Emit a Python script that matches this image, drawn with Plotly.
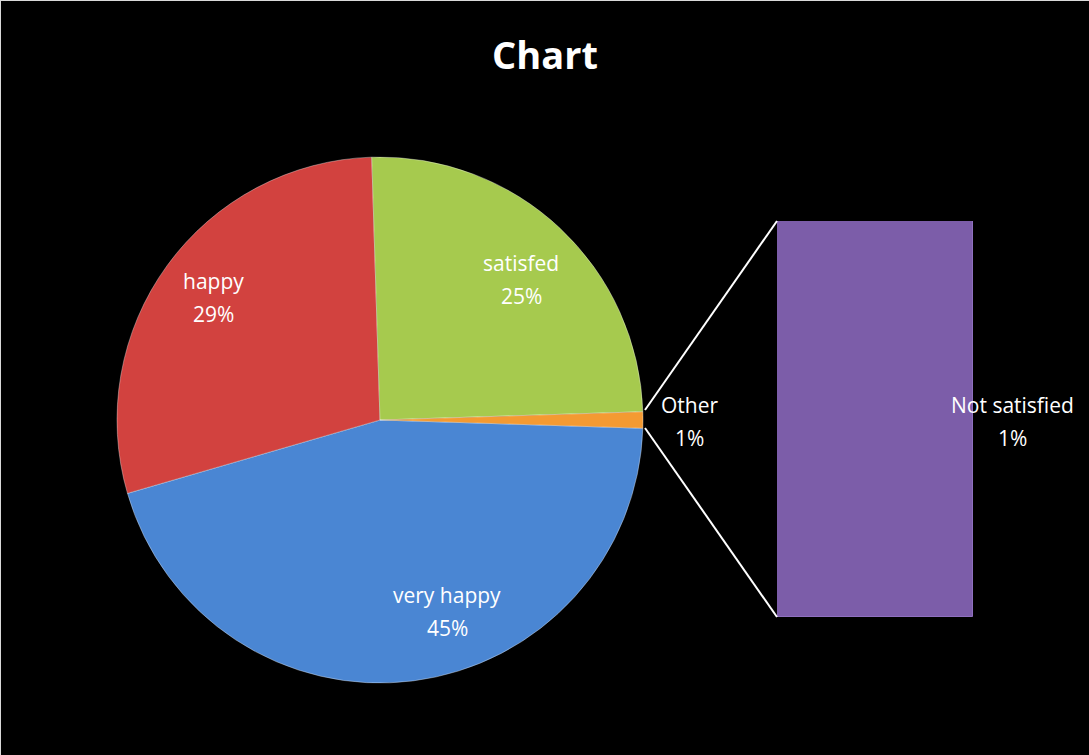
import plotly.graph_objects as go

# pie data (clockwise from the 3 o'clock split)
pie_labels = ["very happy", "happy", "satisfed", "Other"]
pie_values = [45, 29, 25, 1]
pie_colors = ["#4a86d3", "#d2423f", "#a6ca4e", "#f49a32"]

# bar data (breakdown of "Other")
bar_labels = ["Not satisfied"]
bar_values = [1]
bar_color = "#7c5da9"

W, H = 1089, 755
FONT = "Open Sans"


def px_x(x):
    return x / W


def px_y(y):
    return 1 - y / H


fig = go.Figure()

fig.add_trace(go.Pie(
    labels=pie_labels, values=pie_values,
    sort=False, direction="clockwise", rotation=91.8,
    marker=dict(colors=pie_colors, line=dict(color="rgba(255,255,255,0.35)", width=1)),
    textinfo="none", hoverinfo="label+percent",
    domain=dict(x=[px_x(117), px_x(643)], y=[px_y(683), px_y(157)]),
    showlegend=False,
))

fig.add_trace(go.Bar(
    x=bar_labels, y=bar_values,
    marker=dict(color=bar_color, line=dict(color="#8f70bf", width=1)),
    width=1, showlegend=False, hoverinfo="x+y",
))

fig.update_layout(
    width=W, height=H,
    margin=dict(l=0, r=0, t=0, b=0),
    paper_bgcolor="black", plot_bgcolor="black",
    bargap=0,
    xaxis=dict(domain=[px_x(777), px_x(973)], visible=False, range=[-0.5, 0.5]),
    yaxis=dict(domain=[px_y(617), px_y(221)], visible=False, range=[0, 1]),
    font=dict(family=FONT, color="white"),
)

# title
fig.add_annotation(text="<b>Chart</b>", x=0.5, y=px_y(54), xref="paper", yref="paper",
                   xanchor="center", yanchor="middle", showarrow=False,
                   font=dict(size=38, color="white", family=FONT))

# data labels (name line, then percent line)
label_pos = {
    "very happy": (447, 595),
    "happy": (213, 281),
    "satisfed": (521, 263),
    "Other": (689, 405),
    "Not satisfied": (1012, 405),
}
total = sum(pie_values)
all_labels = pie_labels + bar_labels
all_pcts = [v / total for v in pie_values] + [v / total for v in bar_values]
for name, pct in zip(all_labels, all_pcts):
    lx, ly = label_pos[name]
    for txt, yy in [(name, ly), (f"{pct:.0%}", ly + 33)]:
        fig.add_annotation(text=txt, x=px_x(lx), y=px_y(yy), xref="paper", yref="paper",
                           xanchor="center", yanchor="middle", showarrow=False,
                           font=dict(size=21, color="white", family=FONT))

# connector lines from pie to bar
for y0, y1 in [(410, 221), (428, 617)]:
    fig.add_shape(type="line", xref="paper", yref="paper",
                  x0=px_x(645), y0=px_y(y0), x1=px_x(777), y1=px_y(y1),
                  line=dict(color="white", width=2))

# thin frame at the top/left edge
fig.add_shape(type="line", xref="paper", yref="paper", x0=0, y0=1, x1=1, y1=1,
              line=dict(color="#d9d9d9", width=2))
fig.add_shape(type="line", xref="paper", yref="paper", x0=0, y0=0, x1=0, y1=1,
              line=dict(color="#d9d9d9", width=2))

fig.write_html("out.html", config=dict(displayModeBar=False),
               post_script="document.body.style.margin='0';")
